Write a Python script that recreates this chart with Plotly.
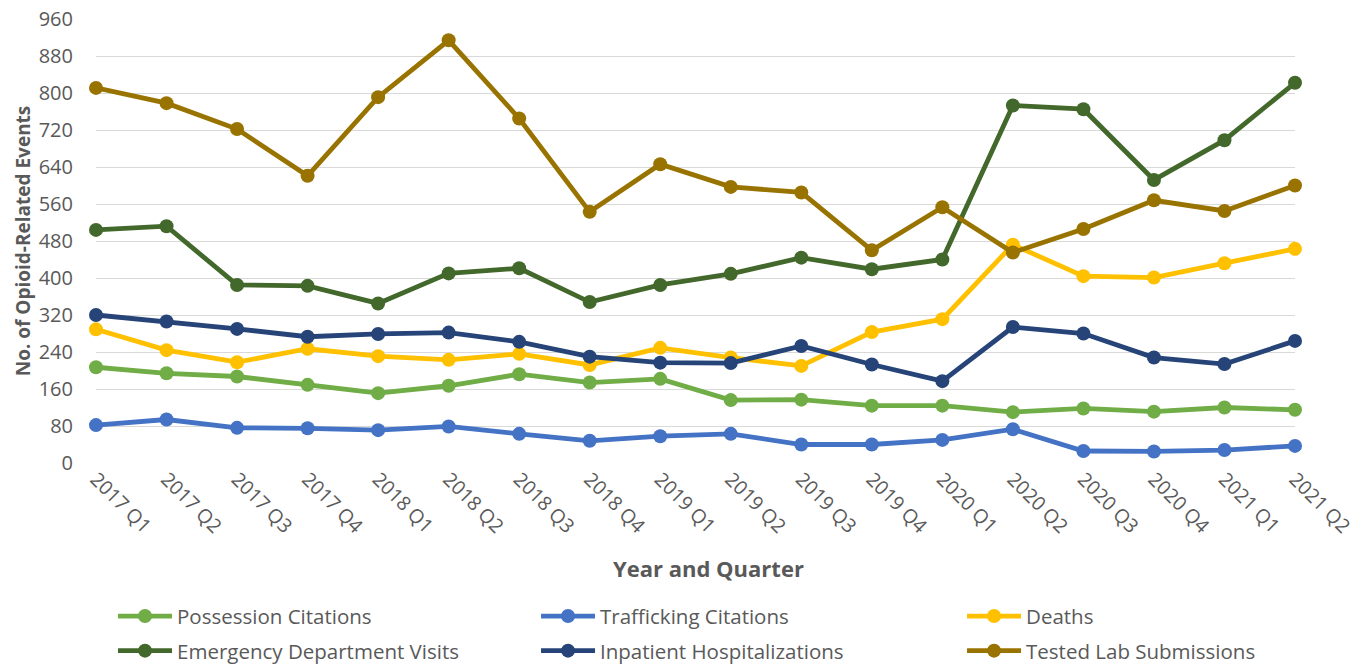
import plotly.graph_objects as go

quarters = ["2017 Q1", "2017 Q2", "2017 Q3", "2017 Q4",
            "2018 Q1", "2018 Q2", "2018 Q3", "2018 Q4",
            "2019 Q1", "2019 Q2", "2019 Q3", "2019 Q4",
            "2020 Q1", "2020 Q2", "2020 Q3", "2020 Q4",
            "2021 Q1", "2021 Q2"]

possession_citations = [207, 194, 187, 169, 151, 167, 192, 174, 182, 136, 137, 124,
                        124, 110, 118, 111, 120, 115]
trafficking_citations = [82, 94, 76, 75, 71, 79, 63, 48, 58, 63, 40, 40,
                         50, 73, 26, 25, 28, 37]
deaths = [289, 244, 218, 247, 231, 223, 236, 212, 249, 228, 210, 283,
          311, 472, 404, 401, 432, 463]
ed_visits = [504, 512, 385, 383, 345, 410, 421, 348, 385, 409, 444, 419,
             440, 773, 765, 612, 698, 822]
inpatient_hosp = [320, 306, 290, 273, 279, 282, 262, 230, 217, 216, 253, 213,
                  177, 294, 280, 228, 214, 264]
tested_lab = [811, 778, 722, 621, 791, 914, 745, 543, 646, 597, 585, 460,
              553, 455, 506, 568, 545, 600]

y_ticks = [0, 80, 160, 240, 320, 400, 480, 560, 640, 720, 800, 880, 960]

# (name, values, colour, legend column)
series = [
    ("Possession Citations", possession_citations, "#70AD47", "legend"),
    ("Trafficking Citations", trafficking_citations, "#4472C4", "legend2"),
    ("Deaths", deaths, "#FFC000", "legend3"),
    ("Emergency Department Visits", ed_visits, "#43682B", "legend"),
    ("Inpatient Hospitalizations", inpatient_hosp, "#264478", "legend2"),
    ("Tested Lab Submissions", tested_lab, "#997300", "legend3"),
]

FONT = "Open Sans"
GREY = "#595959"

fig = go.Figure()
for name, vals, color, leg in series:
    fig.add_trace(go.Scatter(
        x=quarters, y=vals, name=name, mode="lines+markers",
        line=dict(color=color, width=4.8),
        marker=dict(color=color, size=14),
        cliponaxis=False,
        legend=leg, legendgroup=name,
    ))

legend_common = dict(
    orientation="v",
    xanchor="left", yanchor="top", y=-0.3,
    itemwidth=54,
    tracegroupgap=5,
    bgcolor="rgba(0,0,0,0)",
    font=dict(family=FONT, size=20.5, color=GREY),
    traceorder="grouped",
)

fig.update_layout(
    width=1366, height=664,
    margin=dict(l=96, r=71, t=19, b=201, autoexpand=False),
    paper_bgcolor="white", plot_bgcolor="white",
    font=dict(family=FONT, color=GREY, size=20),
    showlegend=True,
    legend=dict(x=0.0142, **legend_common),
    legend2=dict(x=0.367, **legend_common),
    legend3=dict(x=0.7223, **legend_common),
)

fig.update_xaxes(
    type="category",
    range=[0, len(quarters) - 1],
    tickangle=45,
    showgrid=False, zeroline=False, showline=False,
    ticks="", tickfont=dict(family=FONT, size=19.5, color=GREY),
)
fig.update_yaxes(
    range=[0, 960],
    tickvals=y_ticks,
    showgrid=True, gridcolor="#D9D9D9", gridwidth=1.3,
    zeroline=False, showline=False,
    ticks="", ticklabelstandoff=22,
    tickfont=dict(family=FONT, size=20, color=GREY),
    title=dict(text="<b>No. of Opioid-Related Events</b>",
               font=dict(family=FONT, size=19, color=GREY), standoff=3),
)

fig.add_annotation(
    text="<b>Year and Quarter</b>", xref="paper", yref="paper",
    x=0.511, y=-0.2365, xanchor="center", yanchor="middle", showarrow=False,
    font=dict(family=FONT, size=22, color=GREY),
)

fig.write_html("out.html")
